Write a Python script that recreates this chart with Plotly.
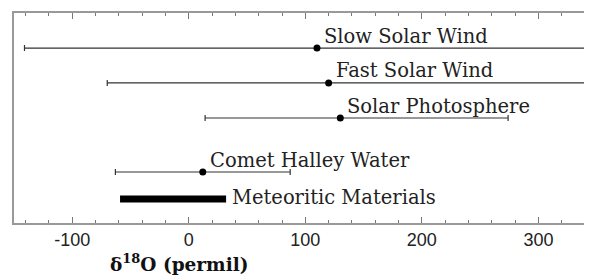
import plotly.graph_objects as go

# Data
names = ["Slow Solar Wind", "Fast Solar Wind", "Solar Photosphere", "Comet Halley Water"]
centers = [110, 120, 130, 12]
lows = [-141, -70, 14, -63]
highs = [380, 380, 274, 87]
rows = [5.83, 4.67, 3.5, 1.7]

meteor_name = "Meteoritic Materials"
meteor_range = [-59, 32]
meteor_row = 0.8

tick_vals = [-100, 0, 100, 200, 300]
tick_text = ["-100", "0", "100", "200", "300"]

fig = go.Figure()

err_plus = [h - c for h, c in zip(highs, centers)]
err_minus = [c - l for c, l in zip(centers, lows)]

fig.add_trace(go.Scatter(
    x=centers, y=rows, mode="markers",
    marker=dict(color="black", size=7),
    error_x=dict(type="data", symmetric=False, array=err_plus, arrayminus=err_minus,
                 color="#333333", thickness=1.2, width=3),
    showlegend=False, hoverinfo="skip",
))

fig.add_trace(go.Scatter(
    x=meteor_range, y=[meteor_row, meteor_row], mode="lines",
    line=dict(color="black", width=7),
    showlegend=False, hoverinfo="skip",
))

label_font = dict(family="DejaVu Serif", size=19.5, color="#222222")
for n, c, r in zip(names, centers, rows):
    fig.add_annotation(x=c, y=r, text=n, showarrow=False, xanchor="left", yanchor="middle",
                       xshift=5, yshift=12, font=label_font)
fig.add_annotation(x=meteor_range[1], y=meteor_row, text=meteor_name, showarrow=False,
                   xanchor="left", yanchor="middle", xshift=4, yshift=2, font=label_font)

fig.add_annotation(xref="paper", yref="paper", x=0.287, y=-0.19, xanchor="center", yanchor="middle",
                   text="<b>δ<sup>18</sup>O (permil)</b>", showarrow=False,
                   font=dict(family="DejaVu Serif", size=18.5, color="#111111"))

fig.update_xaxes(range=[-150, 346], tickmode="array", tickvals=tick_vals, ticktext=tick_text,
                 ticks="inside", ticklen=6, tickwidth=1,
                 tickcolor="#777777", showline=True, linecolor="#999999", linewidth=1.5,
                 mirror="ticks", showgrid=False, zeroline=False,
                 minor=dict(dtick=20, tick0=0, ticks="inside", ticklen=3, tickwidth=1,
                            tickcolor="#777777", showgrid=False),
                 tickfont=dict(family="Liberation Sans", size=18, color="#222222"))
fig.update_yaxes(range=[0, 7], showticklabels=False, ticks="", showline=True,
                 linecolor="#999999", linewidth=1.5, showgrid=False, zeroline=False)

fig.update_layout(width=584, height=272, margin=dict(l=6, r=0, t=5, b=57),
                  plot_bgcolor="white", paper_bgcolor="white")

fig.write_html("out.html")
